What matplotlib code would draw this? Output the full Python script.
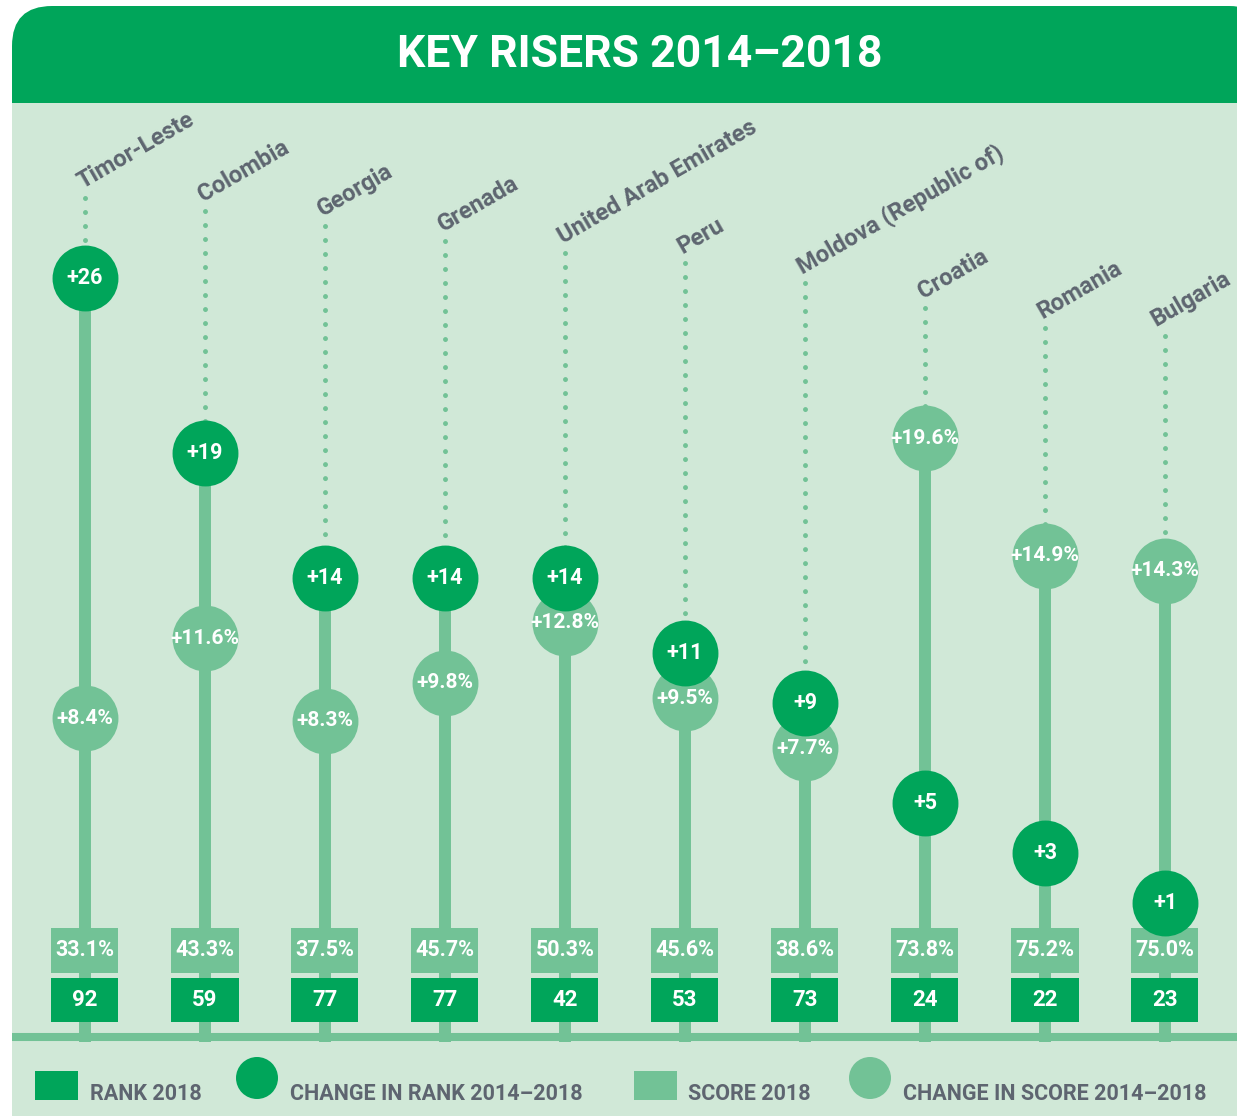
import numpy as np
import matplotlib.pyplot as plt
from matplotlib.patches import Rectangle, FancyBboxPatch

countries = ["Timor-Leste", "Colombia", "Georgia", "Grenada", "United Arab Emirates",
             "Peru", "Moldova (Republic of)", "Croatia", "Romania", "Bulgaria"]
rank_2018 = [92, 59, 77, 77, 42, 53, 73, 24, 22, 23]
rank_change = [26, 19, 14, 14, 14, 11, 9, 5, 3, 1]
score_2018 = [33.1, 43.3, 37.5, 45.7, 50.3, 45.6, 38.6, 73.8, 75.2, 75.0]
score_change = [8.4, 11.6, 8.3, 9.8, 12.8, 9.5, 7.7, 19.6, 14.9, 14.3]

# where each dotted leader stops and the country name starts (chart units)
label_height = [29.2, 28.7, 28.1, 27.5, 27.0, 26.6, 25.8, 24.8, 24.0, 23.7]

DARK = "#00A55A"
LIGHT = "#72C296"
PANEL = "#D0E8D7"
GREY = "#5E6570"
FONT = ["Roboto", "DejaVu Sans"]

W, H = 1237, 1116
fig = plt.figure(figsize=(W / 100, H / 100), dpi=100)

# background panel and header, drawn in pixel units
bg = fig.add_axes([0, 0, 1, 1])
bg.set_xlim(0, W)
bg.set_ylim(H, 0)
bg.axis("off")
bg.add_patch(FancyBboxPatch((12, 6), W + 20, 300, boxstyle="round,pad=0,rounding_size=40",
                            fc=DARK, ec="none"))
bg.add_patch(Rectangle((12, 103), W, H, fc=PANEL, ec="none"))
bg.text(640, 55, "KEY RISERS 2014\u20132018", color="white", fontsize=32, fontweight="bold",
        family=FONT, ha="center", va="center")

# chart: x = column index, y = change value (25 px per unit, zero at row 928)
ax = fig.add_axes([0, 0, 1, 1])
ax.patch.set_alpha(0)
ax.set_xlim(-85 / 120, (W - 85) / 120)
ax.set_ylim(-188 / 25, (H - 188) / 25)
ax.axis("off")

x = np.arange(len(countries))
rank_change = np.array(rank_change, dtype=float)
score_change = np.array(score_change, dtype=float)

# keep a score bubble readable when it sits just under its rank bubble
gap = 1.8
score_pos = score_change.copy()
close = (rank_change > score_change) & (rank_change - score_change < gap)
score_pos[close] = rank_change[close] - gap
top = np.maximum(rank_change, score_pos)

base_y = -4.36
ax.plot([-85 / 120 + 0.1, (W - 85) / 120], [base_y, base_y], color=LIGHT, lw=5.8,
        solid_capstyle="butt", zorder=1)

for i in x:
    ax.plot([i, i], [-4.56, top[i]], color=LIGHT, lw=8.6, solid_capstyle="butt", zorder=1)
    ax.plot([i, i], [label_height[i], top[i]], color=LIGHT, lw=3.6,
            ls=(0, (0.001, 2.8)), dash_capstyle="round", zorder=1)

ax.scatter(x, score_pos, s=2250, color=LIGHT, lw=0, zorder=3)
ax.scatter(x, rank_change, s=2250, color=DARK, lw=0, zorder=4)

bw = 67 / 120
names = []
for i in x:
    ax.add_patch(Rectangle((i - bw / 2, -1.8), bw, 1.8, fc=LIGHT, ec="none", zorder=2))
    ax.add_patch(Rectangle((i - bw / 2, -3.76), bw, 1.76, fc=DARK, ec="none", zorder=2))
    ax.text(i, -0.9, f"{score_2018[i]:.1f}%", color="white", fontsize=15.5, fontweight="bold",
            family=FONT, ha="center", va="center", zorder=5)
    ax.text(i, -2.88, f"{rank_2018[i]}", color="white", fontsize=16, fontweight="bold",
            family=FONT, ha="center", va="center", zorder=5)
    ax.text(i, score_pos[i], f"+{score_change[i]:.1f}%", color="white", fontsize=15,
            fontweight="bold", family=FONT, ha="center", va="center", zorder=5)
    ax.text(i, rank_change[i], f"+{rank_change[i]:.0f}", color="white", fontsize=15.5,
            fontweight="bold", family=FONT, ha="center", va="center", zorder=5)
    names.append(ax.text(i - 0.02, label_height[i] + 0.35, countries[i], color=GREY,
                         fontsize=17, fontweight="bold", family=FONT, rotation=30,
                         rotation_mode="anchor", ha="left", va="baseline", zorder=5))

# pull a name back in if it runs past the right edge
renderer = fig.canvas.get_renderer()
for t in names:
    over = t.get_window_extent(renderer).x1 - (W - 2)
    if over > 0:
        tx, ty = t.get_position()
        t.set_position((tx - over / 120, ty))

# legend along the bottom, in pixel units
lg_y = 1100
items = [("sq", DARK, 35, "RANK 2018", 90),
         ("ci", DARK, 257, "CHANGE IN RANK 2014\u20132018", 290),
         ("sq", LIGHT, 634, "SCORE 2018", 688),
         ("ci", LIGHT, 870, "CHANGE IN SCORE 2014\u20132018", 903)]
for kind, col, px, label, tx in items:
    if kind == "sq":
        bg.add_patch(Rectangle((px, 1071), 43, 29, fc=col, ec="none"))
    else:
        bg.add_patch(plt.Circle((px, 1078), 21, fc=col, ec="none"))
    bg.text(tx, lg_y, label, color=GREY, fontsize=15.5, fontweight="bold", family=FONT,
            ha="left", va="baseline")

fig.savefig("out.png", dpi=100)
